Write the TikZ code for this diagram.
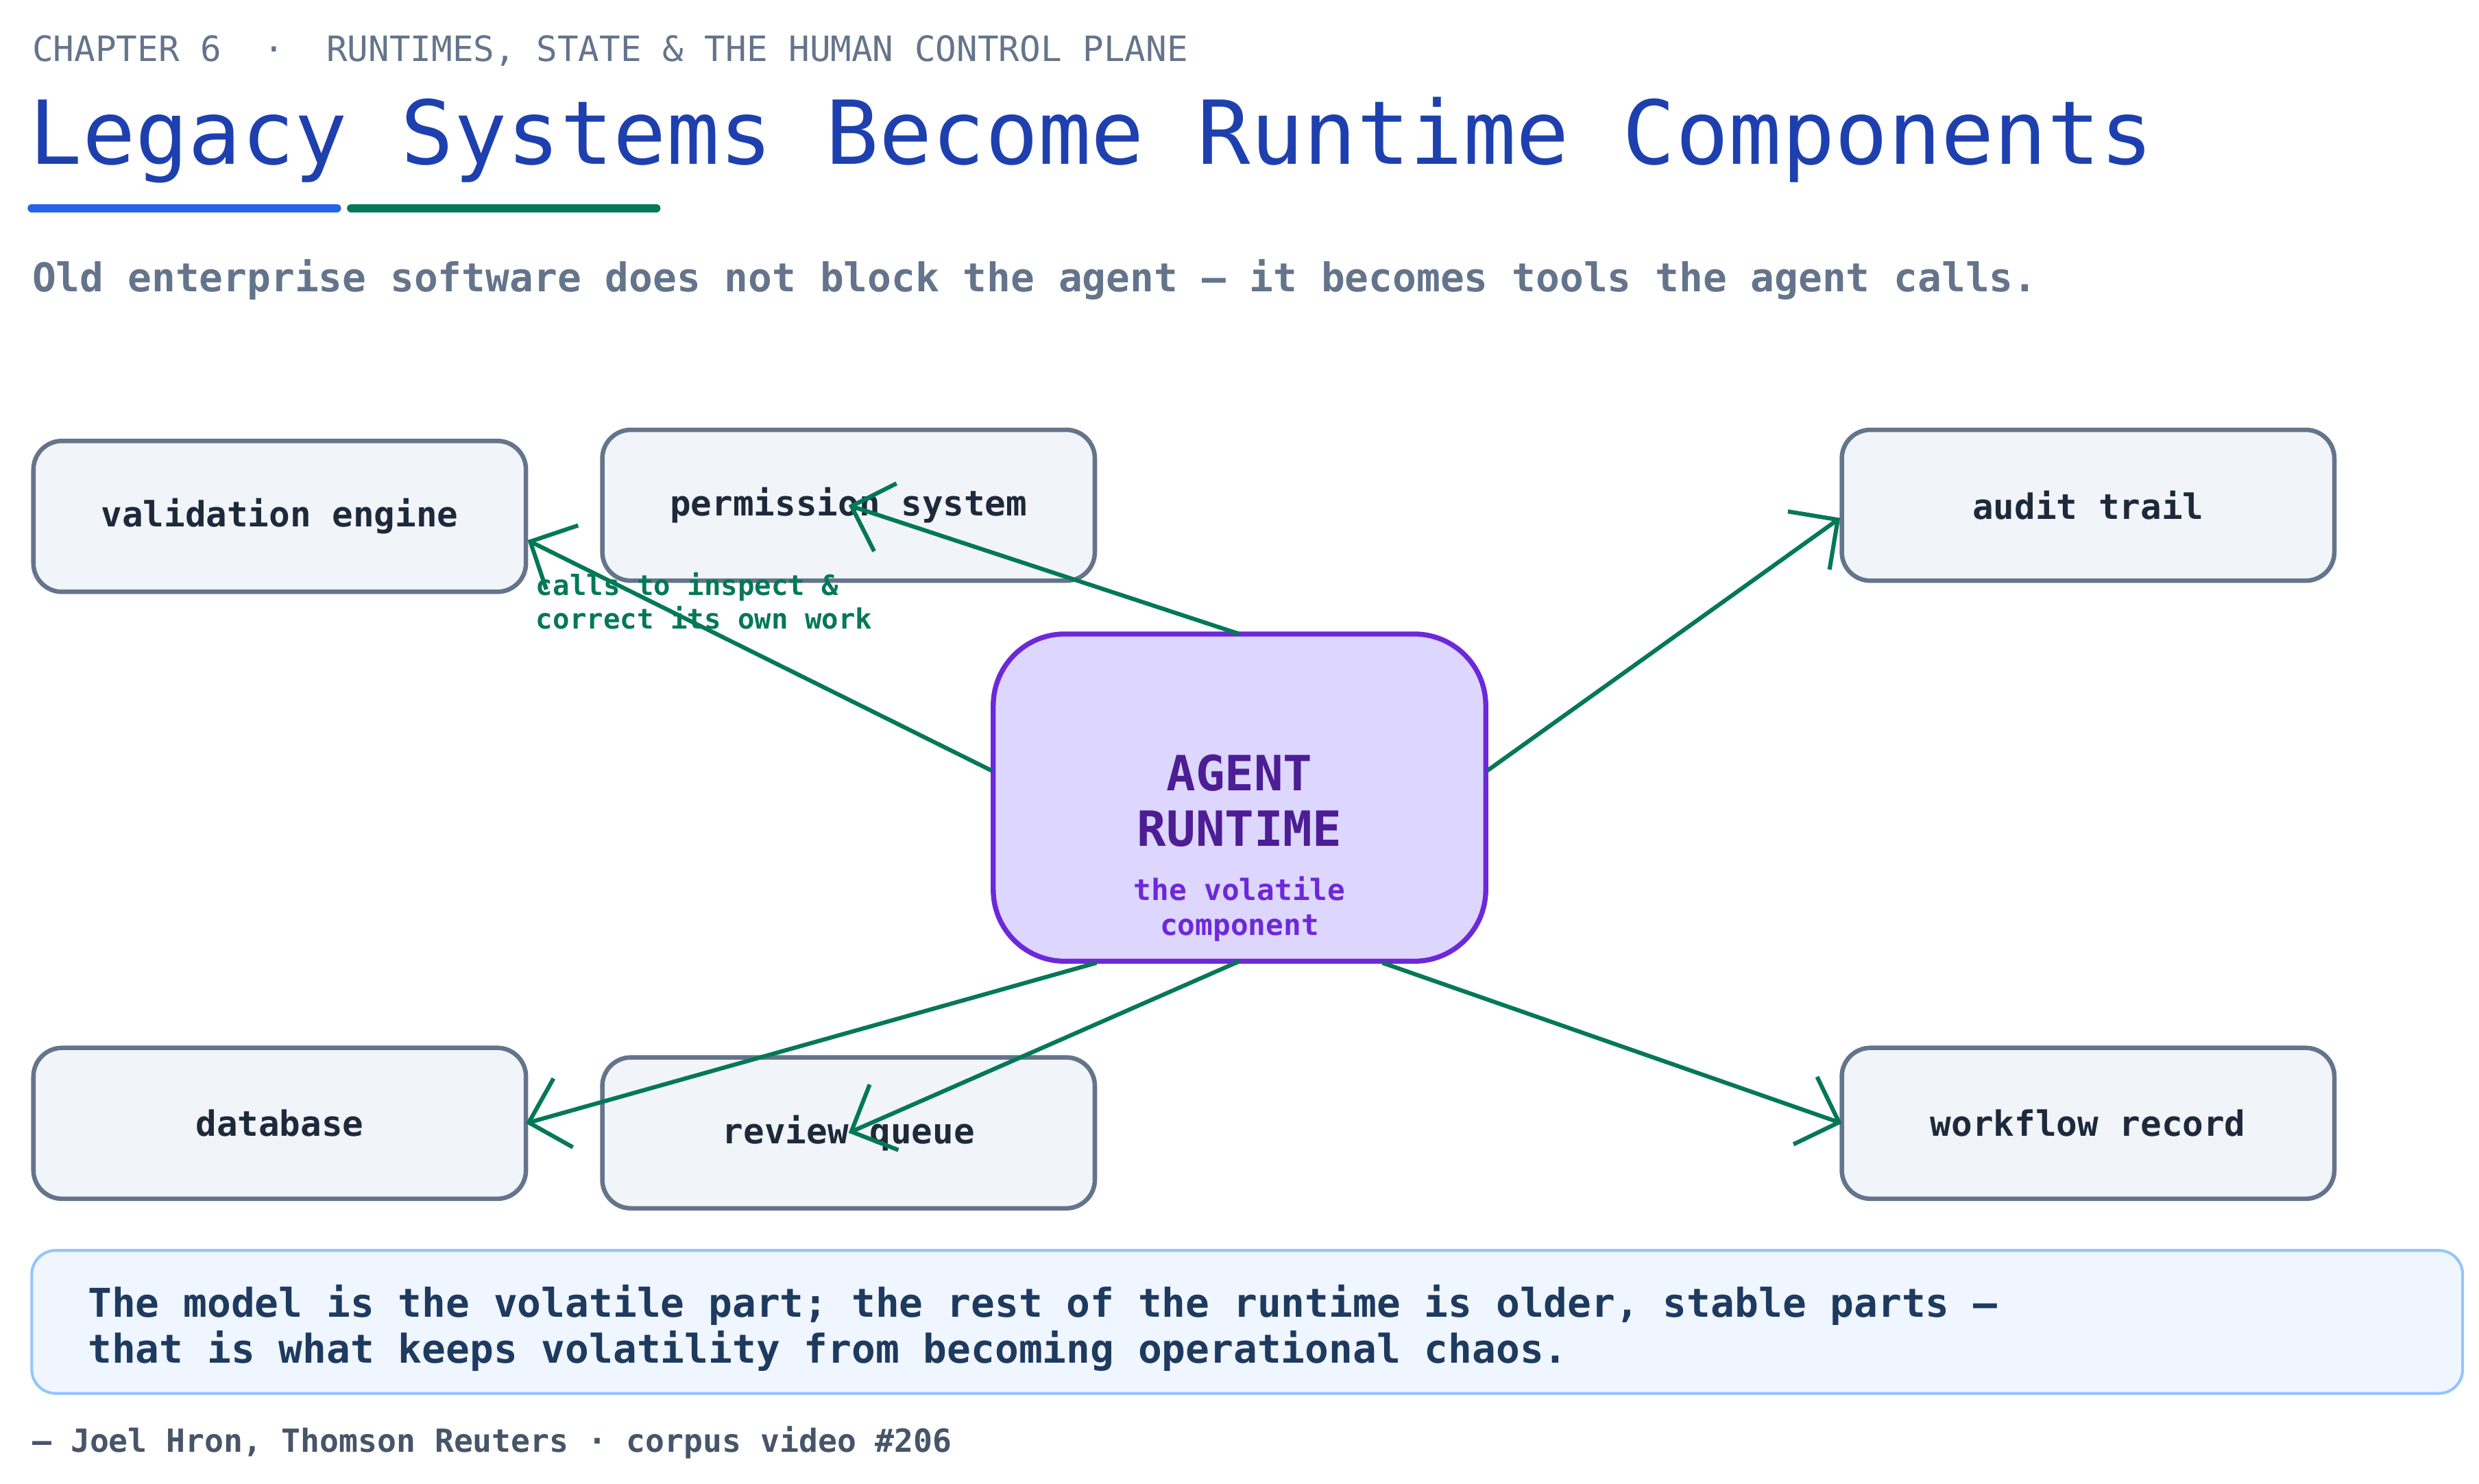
\documentclass[tikz,border=0pt]{standalone}
\usepackage{fontspec}
\setmainfont{DejaVu Sans Mono}
\usetikzlibrary{positioning, arrows.meta}
\definecolor{titleblue}{HTML}{1E40AF}
\definecolor{lineblue}{HTML}{2563EB}
\definecolor{flowgreen}{HTML}{047857}
\definecolor{slate}{HTML}{64748B}
\definecolor{boxfill}{HTML}{F1F5F9}
\definecolor{boxtext}{HTML}{1E293B}
\definecolor{agentfill}{HTML}{DDD6FE}
\definecolor{agentline}{HTML}{6D28D9}
\definecolor{agenttext}{HTML}{4C1D95}
\definecolor{quotefill}{HTML}{EFF6FF}
\definecolor{quoteline}{HTML}{93C5FD}
\definecolor{quotetext}{HTML}{1E3A5F}
\definecolor{foottext}{HTML}{475569}
\tikzset{
  legacy/.style={draw=slate, fill=boxfill, line width=1.6pt, rounded corners=0.36cm,
    minimum width=6.2cm, minimum height=1.9cm, outer sep=0pt, text=boxtext,
    font=\fontsize{12.5}{15}\selectfont\bfseries},
  call/.style={->, draw=flowgreen, line width=1.5pt, >={Straight Barb[length=0.45cm, width=0.9cm]}},
}
\begin{document}
\begin{tikzpicture}[x=0.02cm, y=-0.02cm]
			\useasboundingbox (0,0) rectangle (1560,934);
			\node [anchor=west, inner sep=0pt, text=slate, font=\fontsize{12.5}{15}\selectfont] (chap) at (20,32) {CHAPTER 6 \ · \ RUNTIMES, STATE \& THE HUMAN CONTROL PLANE};
			\node [anchor=west, text=titleblue, font=\fontsize{31.6}{36}\selectfont, inner sep=0pt] (title) at (18,88) {Legacy Systems Become Runtime Components};
			\draw [lineblue, line width=3pt, line cap=round] (20,131) -- (212,131);
			\draw [flowgreen, line width=3pt, line cap=round] (221,131) -- (413,131);
			\node [anchor=west, inner sep=0pt, text=slate, font=\fontsize{14.2}{17}\selectfont\bfseries] (sub) at (20,176) {Old enterprise software does not block the agent — it becomes tools the agent calls.};
			
			\node [legacy] (val) at (176,325) {validation engine};
			\node [legacy] (perm) at (534,318) {permission system};
			\node [legacy] (audit) at (1314,318) {audit trail};
			\node [legacy] (db) at (176,707) {database};
			\node [legacy] (review) at (534,713) {review queue};
			\node [legacy] (wf) at (1314,707) {workflow record};
			\node [draw=agentline, fill=agentfill, line width=1.8pt, rounded corners=0.9cm,
			  minimum width=6.2cm, minimum height=4.12cm, outer sep=0pt] (agent) at (780,502) {};
			\node [align=center, text=agenttext, font=\fontsize{17.4}{20}\selectfont\bfseries] (atitle) at (780,504) {AGENT\\RUNTIME};
			\node [align=center, text=agentline, font=\fontsize{10.5}{12.5}\selectfont\bfseries] (asub) at (780,572) {the volatile\\component};
			
			\coordinate (aw) at (624,485);
			\coordinate (ae) at (936,485);
			\coordinate (asw) at (690,606);
			\coordinate (ase) at (870,606);
			\coordinate (ve) at (332,340);
			\coordinate (aud) at (1158,326);
			\draw [call] (aw) -- (ve);
			\draw [call] (agent.north) -- (perm.center);
			\draw [call] (ae) -- (aud);
			\draw [call] (asw) -- (db.east);
			\draw [call] (agent.south) -- (review.center);
			\draw [call] (ase) -- (wf.west);
			\node [anchor=north west, align=left, text=flowgreen, inner sep=0pt,
			  font=\fontsize{10}{12}\selectfont\bfseries] (note) at (337,360) {calls to inspect \&\\correct its own work};
			
			\node [draw=quoteline, fill=quotefill, line width=1pt, rounded corners=0.3cm,
			  minimum width=30.6cm, minimum height=1.8cm, outer sep=0pt, anchor=north west] (quotebox) at (20,787) {};
			\node [anchor=west, align=left, inner sep=0pt, text=quotetext, font=\fontsize{14.2}{16.5}\selectfont\bfseries] (quote) at (55,836)
			  {The model is the volatile part; the rest of the runtime is older, stable parts —\\that is what keeps volatility from becoming operational chaos.};
			\node [anchor=west, inner sep=0pt, text=foottext, font=\fontsize{11.4}{14}\selectfont\bfseries] (foot) at (20,908) {— Joel Hron, Thomson Reuters · corpus video \#206};
\end{tikzpicture}
\end{document}
